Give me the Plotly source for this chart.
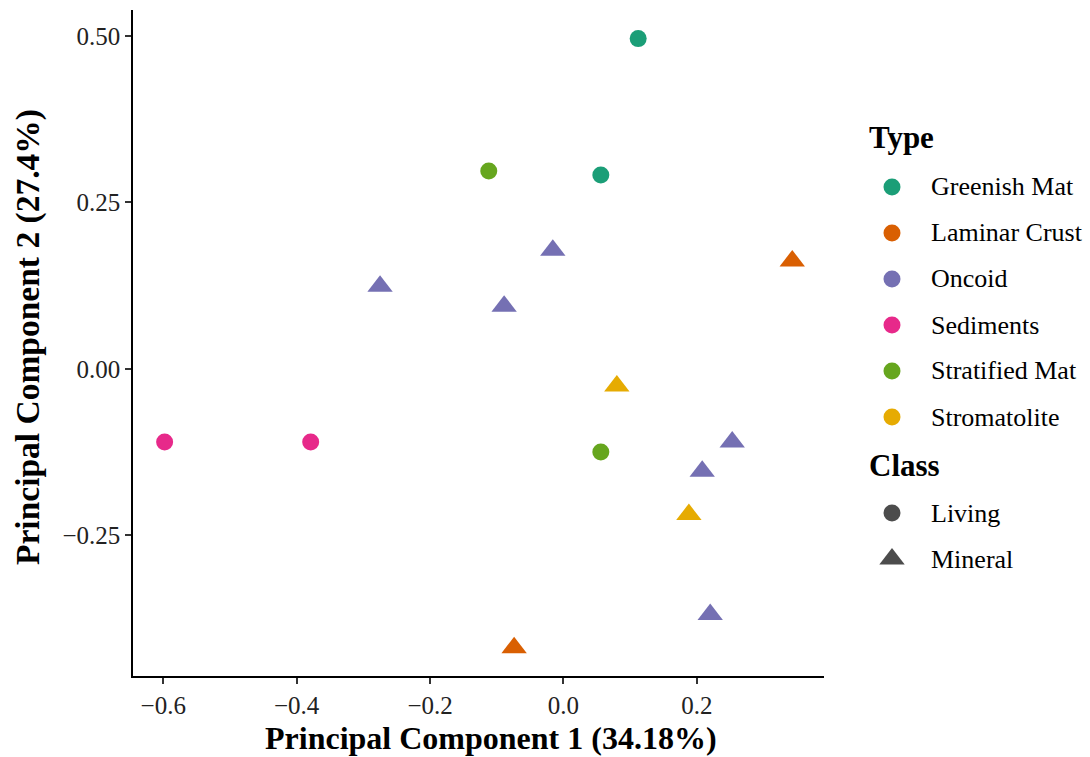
import plotly.graph_objects as go

# ---------------- data ----------------
type_names = ["Greenish Mat", "Laminar Crust", "Oncoid", "Sediments", "Stratified Mat", "Stromatolite"]
type_colors = ["#1B9E77", "#D95F02", "#7570B3", "#E7298A", "#66A61E", "#E6AB02"]
class_names = ["Living", "Mineral"]
class_symbols = ["circle", "triangle-up"]

pc1 = [0.112, 0.056, 0.343, -0.074, -0.275, -0.016, -0.089, 0.253, 0.208, 0.220,
       -0.598, -0.379, -0.112, 0.056, 0.080, 0.188]
pc2 = [0.496, 0.291, 0.162, -0.419, 0.124, 0.178, 0.094, -0.110, -0.154, -0.369,
       -0.110, -0.110, 0.297, -0.125, -0.026, -0.219]
sample_type = ["Greenish Mat", "Greenish Mat", "Laminar Crust", "Laminar Crust",
               "Oncoid", "Oncoid", "Oncoid", "Oncoid", "Oncoid", "Oncoid",
               "Sediments", "Sediments", "Stratified Mat", "Stratified Mat",
               "Stromatolite", "Stromatolite"]
sample_class = ["Living", "Living", "Mineral", "Mineral",
                "Mineral", "Mineral", "Mineral", "Mineral", "Mineral", "Mineral",
                "Living", "Living", "Living", "Living",
                "Mineral", "Mineral"]

x_ticks = [-0.6, -0.4, -0.2, 0.0, 0.2]
y_ticks = [-0.25, 0.0, 0.25, 0.50]
x_title = "Principal Component 1 (34.18%)"
y_title = "Principal Component 2 (27.4%)"

FONT = "Liberation Serif"
color_of = dict(zip(type_names, type_colors))
symbol_of = dict(zip(class_names, class_symbols))
size_of = {"circle": 17, "triangle-up": 22}

W, H = 1090, 757
ML, MR, MT, MB = 133, 0, 10, 81
plot_w = W - ML - MR
plot_h = H - MT - MB
main_right = 824
leg_left = 841


def px_to_paper_x(px):
    return (px - ML) / plot_w


def px_to_paper_y(py):
    return (H - MB - py) / plot_h


fig = go.Figure()

# data points, one trace per type/class combination
for t in type_names:
    for c in class_names:
        xs = [x for x, tt, cc in zip(pc1, sample_type, sample_class) if tt == t and cc == c]
        ys = [y for y, tt, cc in zip(pc2, sample_type, sample_class) if tt == t and cc == c]
        if not xs:
            continue
        sym = symbol_of[c]
        fig.add_trace(go.Scatter(
            x=xs, y=ys, mode="markers", name=f"{t} ({c})", showlegend=False,
            marker=dict(color=color_of[t], symbol=sym, size=size_of[sym], line=dict(width=0)),
            xaxis="x", yaxis="y", cliponaxis=False,
        ))

# ---------------- manual legend (pixel coordinates on a hidden axis) ----------------
LEG_MARK_X = 892
LEG_TEXT_X = 929
LEG_TITLE_X = 867
type_title_y = 137
type_item_y = [187, 233, 279, 325, 371, 417]
class_title_y = 465
class_item_y = [513, 559]

fig.add_trace(go.Scatter(
    x=[LEG_MARK_X] * len(type_names), y=type_item_y, mode="markers", showlegend=False,
    marker=dict(color=type_colors, symbol="circle", size=17, line=dict(width=0)),
    xaxis="x2", yaxis="y2", cliponaxis=False, hoverinfo="skip",
))
fig.add_trace(go.Scatter(
    x=[LEG_MARK_X] * len(class_names), y=class_item_y, mode="markers", showlegend=False,
    marker=dict(color="#000000", symbol=class_symbols,
                size=[size_of[s] for s in class_symbols], line=dict(width=0)),
    xaxis="x2", yaxis="y2", cliponaxis=False, hoverinfo="skip",
))

annotations = []


def add_text(px, py, text, size, xanchor="left", angle=0):
    annotations.append(dict(x=px_to_paper_x(px), y=px_to_paper_y(py), xref="paper", yref="paper",
                            text=text, showarrow=False, xanchor=xanchor, yanchor="middle",
                            textangle=angle, font=dict(family=FONT, size=size, color="black")))


add_text(LEG_TITLE_X, type_title_y, "<b>Type</b>", 31)
for name, yy in zip(type_names, type_item_y):
    add_text(LEG_TEXT_X, yy, name, 26)
add_text(LEG_TITLE_X, class_title_y, "<b>Class</b>", 31)
for name, yy in zip(class_names, class_item_y):
    add_text(LEG_TEXT_X, yy, name, 26)

# axis titles
add_text(491, 738, f"<b>{x_title}</b>", 32, xanchor="center")
add_text(28, 337, f"<b>{y_title}</b>", 33.5, xanchor="center", angle=-90)

fig.update_layout(
    width=W, height=H,
    margin=dict(l=ML, r=MR, t=MT, b=MB, pad=0),
    paper_bgcolor="white", plot_bgcolor="white",
    font=dict(family=FONT, color="black"),
    showlegend=False,
    annotations=annotations,
    xaxis=dict(
        domain=[0, px_to_paper_x(main_right)],
        range=[-0.6454, 0.3906],
        tickvals=x_ticks, tickformat=".1f",
        showgrid=False, zeroline=False,
        showline=True, linecolor="black", linewidth=1.5,
        ticks="outside", ticklen=6, tickwidth=1.5, tickcolor="#333333",
        tickfont=dict(family=FONT, size=25, color="#222222"),
        automargin=False, anchor="y",
    ),
    yaxis=dict(
        domain=[0, 1],
        range=[-0.4615, 0.539],
        tickvals=y_ticks, tickformat=".2f",
        showgrid=False, zeroline=False,
        showline=True, linecolor="black", linewidth=1.5,
        ticks="outside", ticklen=6, tickwidth=1.5, tickcolor="#333333",
        tickfont=dict(family=FONT, size=25, color="#222222"),
        automargin=False, anchor="x",
    ),
    xaxis2=dict(domain=[px_to_paper_x(leg_left), 1], range=[leg_left, W], visible=False,
                fixedrange=True, anchor="y2"),
    yaxis2=dict(domain=[0, 1], range=[H - MB, MT], visible=False,
                fixedrange=True, anchor="x2"),
)

fig.write_html("out.html")
